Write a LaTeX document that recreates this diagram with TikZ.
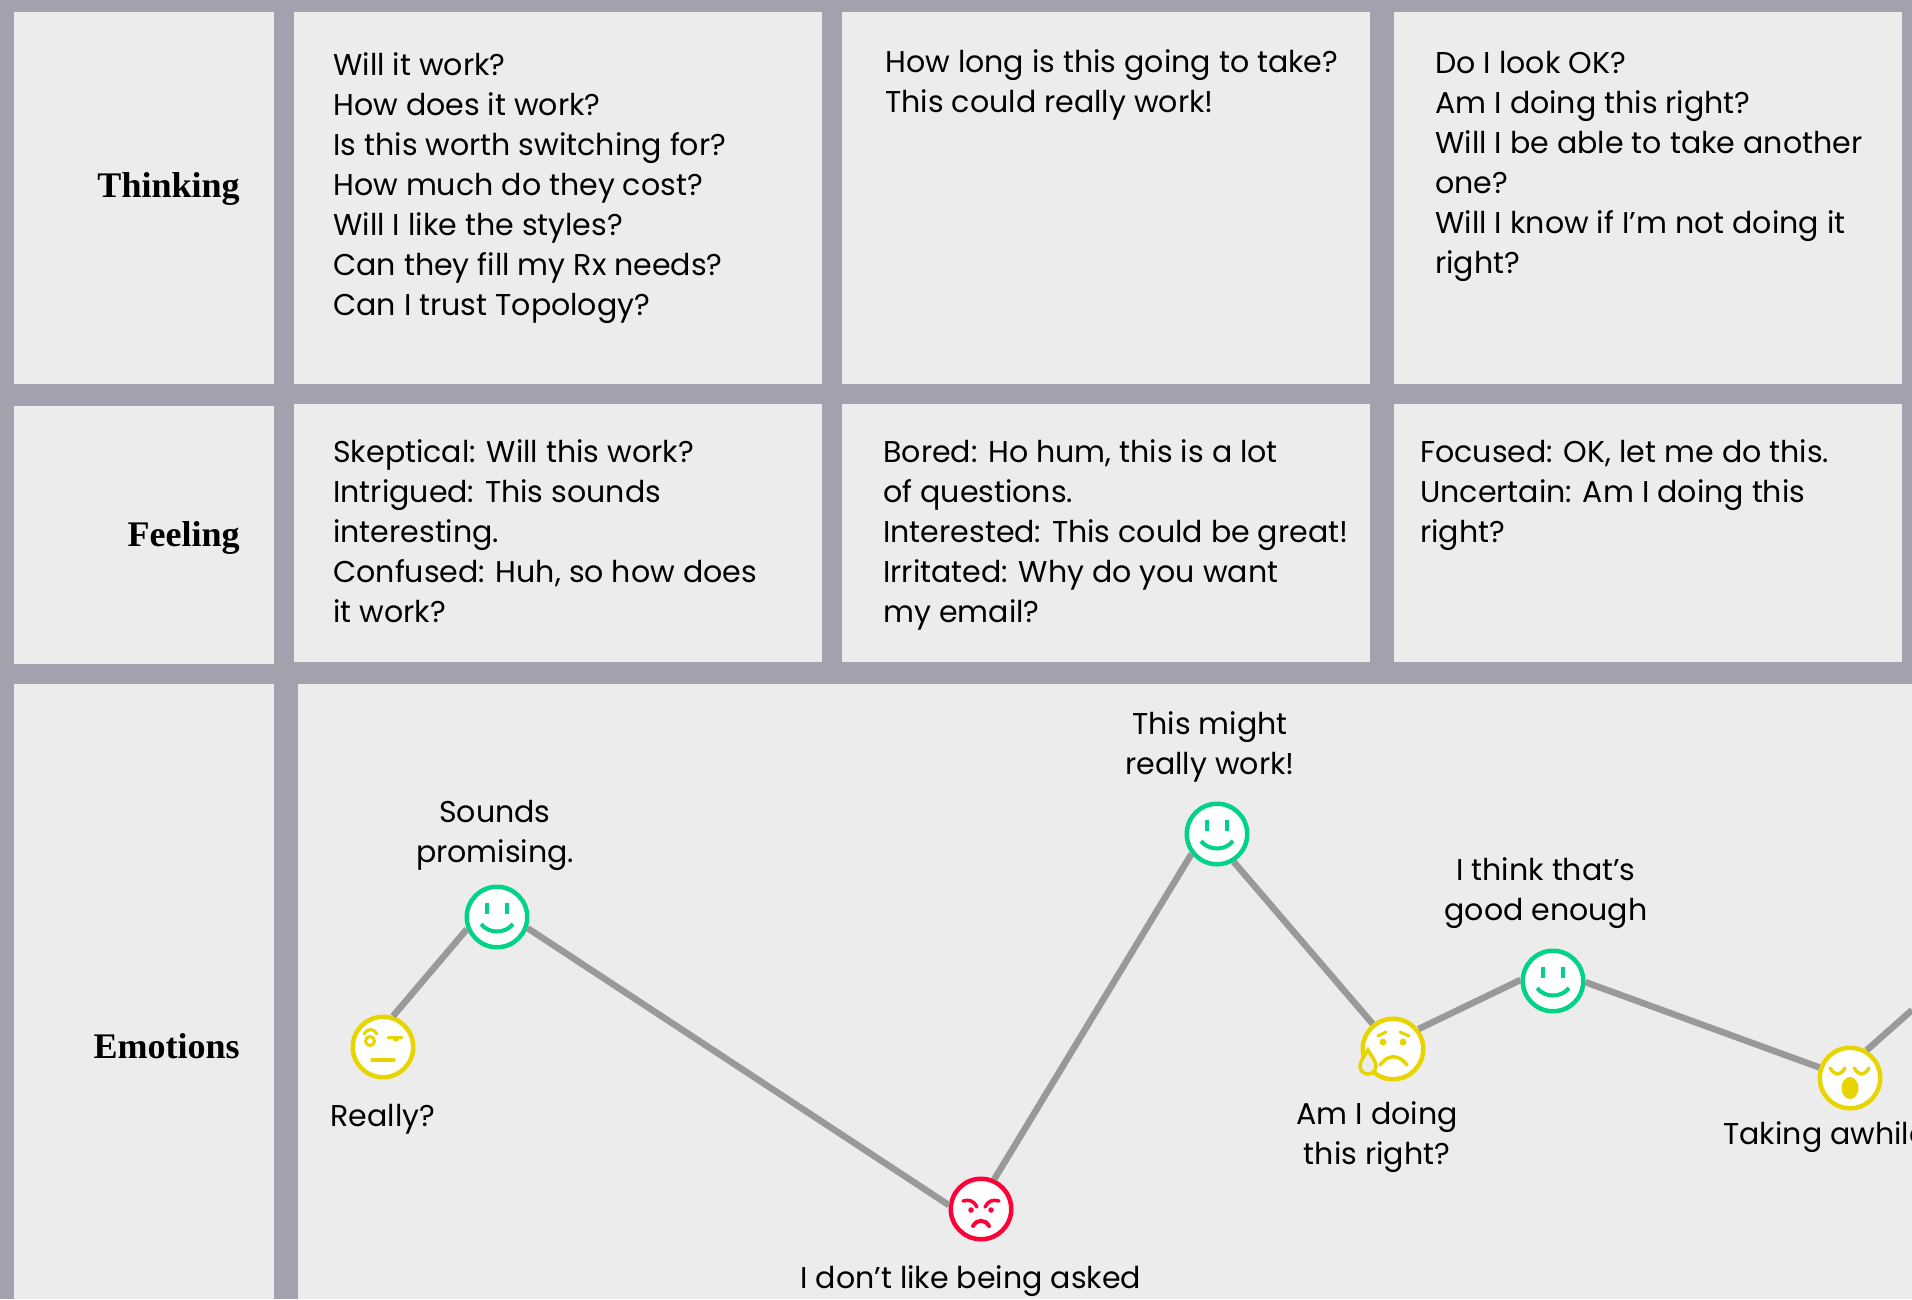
\documentclass[tikz,border=0pt]{standalone}
\usepackage{fontspec}
\setmainfont{Poppins}[Kerning=Off]
\newfontfamily\headfont{Liberation Serif}
\definecolor{gutter}{HTML}{A3A1AE}
\definecolor{panel}{HTML}{ECECEC}
\definecolor{linkgray}{HTML}{999999}
\definecolor{moodgreen}{HTML}{00D387}
\definecolor{moodyellow}{HTML}{E8D500}
\definecolor{moodred}{HTML}{FF0038}
\tikzset{
  pics/smile/.style={code={
    \draw[moodgreen, line width=.08cm] (-10,-14) -- (-10,-3) (10,-14) -- (10,-3);
    \draw[moodgreen, line width=.08cm] (-16,7) .. controls (-8,17) and (8,17) .. (16,7);
  }},
  pics/doubt/.style={code={
    \draw[moodyellow, line width=.06cm] (-13,-6) circle (.09cm);
    \draw[moodyellow, line width=.06cm, line cap=round] (-19,-13) .. controls (-15,-19) and (-10,-19) .. (-6,-13);
    \draw[moodyellow, line width=.06cm, line cap=round] (5,-10) -- (19,-10);
    \fill[moodyellow] (9,-10) .. controls (9,-4) and (17,-4) .. (17,-10) -- cycle;
    \draw[moodyellow, line width=.07cm, line cap=round] (-11,13) -- (11,13);
  }},
  pics/angry/.style={code={
    \draw[moodred, line width=.07cm, line cap=round] (-18,-8) .. controls (-12,-10) and (-7,-8) .. (-4,-2);
    \draw[moodred, line width=.07cm, line cap=round] (18,-8) .. controls (12,-10) and (7,-8) .. (4,-2);
    \fill[moodred] (-10,1) circle (.055cm) (10,1) circle (.055cm);
    \draw[moodred, line width=.08cm, line cap=round] (-8,17) .. controls (-4,10) and (4,10) .. (8,17);
  }},
  pics/tearful/.style={code={
    \draw[moodyellow, line width=.06cm, line cap=round] (-15,-13) -- (-7,-17) (16,-13) -- (7,-17);
    \fill[moodyellow] (-10,-7) circle (.07cm) (10,-7) circle (.07cm);
    \draw[moodyellow, line width=.07cm, line cap=round] (-13,16) .. controls (-5,5) and (6,5) .. (14,16);
    \draw[moodyellow, fill=panel, line width=.07cm] (-25,1) .. controls (-29,8) and (-33,12) .. (-33,17)
      .. controls (-33,22) and (-29,25) .. (-25,25) .. controls (-21,25) and (-17,22) .. (-17,17)
      .. controls (-17,12) and (-21,8) .. (-25,1) -- cycle;
  }},
  pics/yawn/.style={code={
    \draw[moodyellow, line width=.07cm, line cap=round] (-20,-10) .. controls (-15,-2) and (-10,-2) .. (-5,-10);
    \draw[moodyellow, line width=.07cm, line cap=round] (4,-10) .. controls (9,-2) and (14,-2) .. (19,-10);
    \fill[moodyellow] (0,10) ellipse (.17cm and .22cm);
  }}
}
\begin{document}
\begin{tikzpicture}[
  x=.02cm, y=-.02cm,
  font=\fontsize{17.1}{22.8}\selectfont,
  rowhead/.style={font=\headfont\bfseries\fontsize{20.5}{24}\selectfont, anchor=base east, inner sep=0pt},
  notes/.style={anchor=north west, inner sep=0pt, align=left},
  said/.style={align=center, inner sep=0pt},
  face/.style={circle, draw=#1, fill=white, line width=.09cm, minimum size=1.21cm, inner sep=0pt},
  link/.style={draw=linkgray, line width=.13cm}
]
  \useasboundingbox (0,0) rectangle (1912,1299);
  \fill[gutter] (0,0) rectangle (1912,1299);
  % panels
  \fill[panel] (14,12) rectangle (274,384);
  \fill[panel] (294,12) rectangle (822,384);
  \fill[panel] (842,12) rectangle (1370,384);
  \fill[panel] (1394,12) rectangle (1902,384);
  \fill[panel] (14,406) rectangle (274,664);
  \fill[panel] (294,404) rectangle (822,662);
  \fill[panel] (842,404) rectangle (1370,662);
  \fill[panel] (1394,404) rectangle (1902,662);
  \fill[panel] (14,684) rectangle (274,1299);
  \fill[panel] (298,684) rectangle (1912,1299);
  % row heads
  \node[rowhead] (thinking) at (240,197) {Thinking};
  \node[rowhead] (feeling) at (240,546) {Feeling};
  \node[rowhead] (emotions) at (240,1058) {Emotions};
  % thinking
  \node[notes] (think1) at (333,52) {Will it work?\\How does it work?\\Is this worth switching for?\\How much do they cost?\\Will I like the styles?\\Can they fill my Rx needs?\\Can I trust Topology?};
  \node[notes] (think2) at (885,49) {How long is this going to take?\\This could really work!};
  \node[notes] (think3) at (1435,51) {Do I look OK?\\Am I doing this right?\\Will I be able to take another\\one?\\Will I know if I’m not doing it\\right?};
  % feeling
  \node[notes] (feel1) at (333,439) {Skeptical: Will this work?\\Intrigued: This sounds\\interesting.\\Confused: Huh, so how does\\it work?};
  \node[notes] (feel2) at (883,439) {Bored: Ho hum, this is a lot\\of questions.\\Interested: This could be great!\\Irritated: Why do you want\\my email?};
  \node[notes] (feel3) at (1420,439) {Focused: OK, let me do this.\\Uncertain: Am I doing this\\right?};
  % faces
  \node[face=moodyellow] (really) at (383,1047) {};
  \node[face=moodgreen] (promising) at (497,917) {};
  \node[face=moodred] (asked) at (981,1209) {};
  \node[face=moodgreen] (works) at (1217,834) {};
  \node[face=moodyellow] (doing) at (1393,1049) {};
  \node[face=moodgreen] (enough) at (1553,981) {};
  \node[face=moodyellow] (awhile) at (1850,1078) {};
  \coordinate (offpage) at (1912,1010);
  \pic at (really) {doubt};
  \pic at (promising) {smile};
  \pic at (asked) {angry};
  \pic at (works) {smile};
  \pic at (doing) {tearful};
  \pic at (enough) {smile};
  \pic at (awhile) {yawn};
  % links
  \draw[link] (really.72) -- (promising.202);
  \draw[link] (promising.-20) -- (asked.173);
  \draw[link] (asked.66) -- (works.218);
  \draw[link] (works.-59) -- (doing.129);
  \draw[link] (doing.38) -- (enough.178);
  \draw[link] (enough.-2) -- (awhile.161);
  \draw[link] (awhile.59) -- (offpage);
  % labels
  \node[said] (reallytxt) at (383,1119) {Really?};
  \node[said] (promisingtxt) at (495,835) {Sounds\\promising.};
  \node[said] (workstxt) at (1210,747) {This might\\really work!};
  \node[said] (doingtxt) at (1377,1137) {Am I doing\\this right?};
  \node[said] (enoughtxt) at (1546,893) {I think that’s\\good enough};
  \node[said, anchor=north west] (awhiletxt) at (1723,1121) {Taking awhile};
  \node[said, anchor=north west] (askedtxt) at (800,1265) {I don’t like being asked};
\end{tikzpicture}
\end{document}
